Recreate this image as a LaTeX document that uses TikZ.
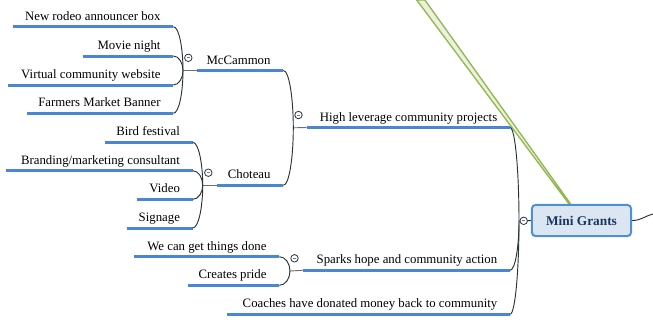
\documentclass[tikz,border=0pt]{standalone}
\usepackage{fontspec}
\setmainfont{Liberation Serif}
\usetikzlibrary{calc}
\definecolor{ulblue}{RGB}{74,134,214}
\definecolor{connc}{RGB}{40,52,56}
\definecolor{junc}{RGB}{110,110,110}
\definecolor{boxfill}{RGB}{220,230,242}
\definecolor{boxdraw}{RGB}{79,143,216}
\definecolor{rootText}{RGB}{23,55,94}
\definecolor{grnD}{RGB}{146,184,80}
\definecolor{grnL}{RGB}{235,241,222}
\definecolor{minusc}{RGB}{100,120,170}
\tikzset{
  uline/.style={draw=ulblue,line width=2.25pt},
  cline/.style={draw=connc,line width=0.7pt},
  jline/.style={draw=junc,line width=0.7pt},
  lbl/.style={anchor=base east,inner sep=0pt,font=\fontsize{9.6}{11}\selectfont},
  collapse/.style={circle,draw=connc,fill=white,line width=0.6pt,minimum size=5.6pt,inner sep=0pt,
    path picture={\draw[minusc,line width=0.5pt]([xshift=-1.3pt]path picture bounding box.center)--([xshift=1.3pt]path picture bounding box.center);}},
  rootbox/.style={draw=boxdraw,fill=boxfill,line width=1.5pt,rounded corners=3pt,minimum width=74.5pt,minimum height=23.5pt,inner sep=0pt,
    font=\fontsize{10}{12}\selectfont\bfseries,text=rootText}
}
\newcommand\topic[5]{%
  \coordinate (#1L) at (#2,#4); \coordinate (#1R) at (#3,#4);
  \draw[uline] (#1L) -- (#1R);
  \node[lbl] (#1) at ($(#1R)+(-12.5,-6.5)$) {#5};}
\newcommand\conn[2]{%
  \draw[cline] let \p1=(#1), \p2=(#2) in (\p1) .. controls ({0.4*\x1+0.6*\x2},\y1) and (\x2,{0.5*\y1+0.5*\y2}) .. (\p2);}
\begin{document}
\begin{tikzpicture}[x=0.75pt,y=-0.75pt]
\path[use as bounding box] (0,0) rectangle (653,326);
% green connector to off-canvas topic
\coordinate (gTop) at (420.8,0);
\coordinate (gBot) at (569.5,203.5);
\filldraw[fill=grnL,draw=grnD,line width=1pt,line join=round] ($(gTop)+(-4.1,0)$) -- ($(gTop)+(4.1,0)$) -- ($(gBot)+(0.8,0)$) -- ($(gBot)+(-0.8,0)$) -- cycle;
% root
\node[rootbox] (mg) at (581.5,220.5) {Mini Grants};
\coordinate (offR) at (653,214);
\draw[cline] (mg.east) .. controls (641,220.5) and (645,216) .. (offR);
\coordinate (mgJ) at (519,221);
\draw[cline] (mg.west) -- (mgJ);
\node[collapse] (mgC) at (523.7,220.8) {};
% McCammon group
\topic{rodeo}{13}{173.3}{26.7}{New rodeo announcer box}
\topic{movie}{83}{173.3}{56}{Movie night}
\topic{virtual}{8}{173.3}{85}{Virtual community website}
\topic{farmers}{27}{173.3}{113.3}{Farmers Market Banner}
\topic{mc}{196.5}{283.3}{70.5}{McCammon}
\coordinate (mcJ) at (183,70.5);
\draw[jline] (mcJ) -- (mcL);
\conn{rodeoR}{mcJ}\conn{movieR}{mcJ}\conn{virtualR}{mcJ}\conn{farmersR}{mcJ}
\node[collapse] (mcC) at (188.3,57.8) {};
% Choteau group
\topic{bird}{104.7}{192.7}{142.3}{Bird festival}
\topic{brand}{6}{192.7}{170.7}{Branding/marketing consultant}
\topic{video}{137}{192.7}{199.3}{Video}
\topic{signage}{126.7}{192.7}{228}{Signage}
\topic{ch}{216.5}{283.3}{185.3}{Choteau}
\coordinate (chJ) at (202.7,185.3);
\draw[jline] (chJ) -- (chL);
\conn{birdR}{chJ}\conn{brandR}{chJ}\conn{videoR}{chJ}\conn{signageR}{chJ}
\node[collapse] (chC) at (208.3,172.7) {};
% High leverage
\topic{hi}{306.7}{510}{127.5}{High leverage community projects}
\coordinate (hiJ) at (293.3,127.8);
\draw[jline] (hiJ) -- (hiL);
\conn{mcR}{hiJ}\conn{chR}{hiJ}
\node[collapse] (hiC) at (298.5,115) {};
% Sparks
\topic{wecan}{134.3}{279.3}{256.7}{We can get things done}
\topic{pride}{188.3}{279.3}{285.3}{Creates pride}
\topic{sp}{302.7}{510}{270.3}{Sparks hope and community action}
\coordinate (spJ) at (290,271);
\draw[jline] (spJ) -- (spL);
\conn{wecanR}{spJ}\conn{prideR}{spJ}
\node[collapse] (spC) at (294.5,258.3) {};
% Coaches
\topic{co}{227.3}{510}{314.3}{Coaches have donated money back to community}
% root connectors
\conn{hiR}{mgJ}\conn{spR}{mgJ}\conn{coR}{mgJ}
\end{tikzpicture}
\end{document}
